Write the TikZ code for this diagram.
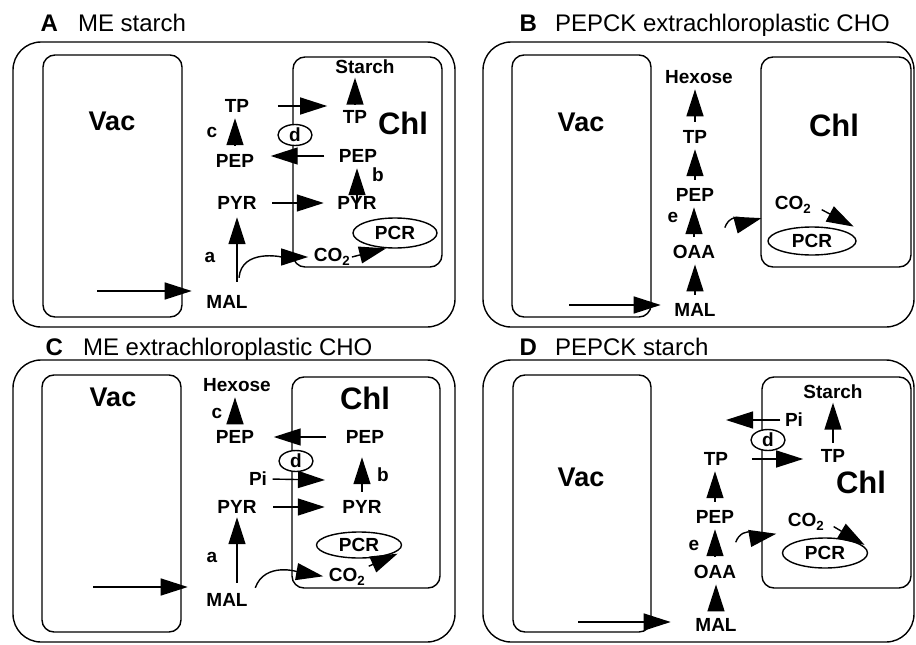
\documentclass[tikz,border=0pt]{standalone}
\usepackage{fontspec}
\setmainfont{Liberation Sans}
\usetikzlibrary{arrows.meta,positioning,calc,shapes.geometric}

\begin{document}
\begin{tikzpicture}[
  x=1pt, y=1pt,
  line width=1.4pt,
  cell/.style={draw, rounded corners=28pt},
  comp/.style={draw, rounded corners=12pt},
  ptitle/.style={anchor=base west, inner sep=0pt, font=\fontsize{24}{26}\selectfont},
  met/.style={inner sep=1pt, font=\fontsize{19}{20}\selectfont\bfseries},
  vacl/.style={inner sep=1pt, font=\fontsize{27}{29}\selectfont\bfseries},
  chll/.style={inner sep=1pt, font=\fontsize{31}{33}\selectfont\bfseries},
  enz/.style={ellipse, draw, fill=white, inner sep=0pt, minimum width=34pt, minimum height=21pt, font=\fontsize{19}{20}\selectfont\bfseries},
  pcr/.style={ellipse, draw, inner sep=0pt, minimum width=85pt, minimum height=29pt, font=\fontsize{19}{20}\selectfont\bfseries},
  arrow/.style={-{Triangle[length=27pt, width=17pt]}},
  hop/.style={arrow, shorten <=7pt, shorten >=4pt}
]
\useasboundingbox (0,0) rectangle (916,-645);

\node[ptitle] (aTitle) at (40,-31.5) {\textbf{A}\hspace{20pt}ME starch};
\draw[cell] (13,-42) rectangle (455,-327);
\draw[comp] (43,-55) rectangle (182,-317);
\draw[comp] (293,-57) rectangle (442,-267);
\node[vacl] (aVac) at (112,-121) {Vac};
\node[chll] (aChl) at (403,-123) {Chl};
\node[met] (aStarch) at (365,-67) {Starch};
\node[met] (aTPi) at (355,-117) {TP};
\node[met] (aTPo) at (237,-106) {TP};
\node[met] (ac) at (212,-132) {c};
\node[met] (aPEPo) at (235,-161) {PEP};
\node[enz] (aD) at (295,-135) {d};
\node[met] (aPEPi) at (358,-156) {PEP};
\node[met] (ab) at (378,-175) {b};
\node[met] (aPYRo) at (237,-203) {PYR};
\node[met] (aPYRi) at (357,-203) {PYR};
\node[pcr, minimum width=84pt, minimum height=30pt] (aPCR) at (395,-233) {PCR};
\node[met] (aCO2) at (332,-257) {CO\textsubscript{2}};
\node[met] (aa) at (210,-257) {a};
\node[met] (aMAL) at (227,-302) {MAL};
\coordinate (aIn) at (97,-291);

\draw[arrow, shorten <=5pt, shorten >=2pt] (aTPi.north) -- (aTPi.north |- aStarch.south);
\draw[arrow, shorten <=27pt, shorten >=14pt] (aTPo.east) -- (aTPo.east -| aTPi.west);
\draw[arrow, shorten <=13pt, shorten >=15pt] (aPEPi.west) -- (aPEPi.west -| aPEPo.east);
\draw[hop] (aPEPo.north) -- (aPEPo.north |- aTPo.south);
\draw[hop] (aPYRi.north) -- (aPYRi.north |- aPEPi.south);
\draw[arrow, shorten <=14pt, shorten >=12pt] (aPYRo.east) -- (aPYRi.west);
\draw[arrow, shorten <=12pt, shorten >=6pt] (aPYRo.south |- aMAL.north) -- (aPYRo.south);
\draw[arrow, shorten >=13pt] (aIn) -- (aIn -| aMAL.west);
\draw[arrow, shorten >=4pt] ($(aPYRo.south |- aMAL.north)+(2,16)$) to[out=85, in=180] (aCO2.west);
\draw[arrow] (aCO2.east) -- (aPCR.240);

\node[ptitle] (bTitle) at (519,-31.5) {\textbf{B}\hspace{18pt}PEPCK extrachloroplastic CHO};
\draw[cell] (483,-42) rectangle (914,-327);
\draw[comp] (512,-55) rectangle (651,-317);
\draw[comp] (761,-57) rectangle (911,-267);
\node[vacl] (bVac) at (581,-122) {Vac};
\node[chll] (bChl) at (834,-125) {Chl};
\node[met] (bHex) at (699,-77) {Hexose};
\node[met] (bTP) at (695,-137) {TP};
\node[met] (bPEP) at (695,-195) {PEP};
\node[met] (be) at (673,-217) {e};
\node[met] (bOAA) at (694,-252) {OAA};
\node[met] (bMAL) at (695,-310) {MAL};
\node[met] (bCO2) at (793,-205) {CO\textsubscript{2}};
\node[pcr, minimum width=88pt, minimum height=28pt] (bPCR) at (812,-241) {PCR};
\coordinate (bIn) at (569,-305);

\draw[hop] (bTP.north) -- (bTP.north |- bHex.south);
\draw[hop] (bPEP.north) -- (bPEP.north |- bTP.south);
\draw[hop] (bOAA.north) -- (bOAA.north |- bPEP.south);
\draw[hop] (bMAL.north) -- (bMAL.north |- bOAA.south);
\draw[arrow, shorten >=12pt] (bIn) -- (bIn -| bMAL.west);
\draw[arrow, shorten >=12pt] ($(bOAA.north east)+(8,16)$) to[out=70, in=195] (bCO2.south west);
\draw[arrow, shorten <=10pt] (bCO2.east) -- ($(bPCR.north east)+(10,4)$);

\node[ptitle] (cTitle) at (45,-355.5) {\textbf{C}\hspace{20pt}ME extrachloroplastic CHO};
\draw[cell] (13,-360) rectangle (455,-642);
\draw[comp] (42,-375) rectangle (181,-632);
\draw[comp] (292,-377) rectangle (440,-588);
\node[vacl] (cVac) at (113,-397) {Vac};
\node[chll] (cChl) at (365,-398) {Chl};
\node[met] (cHex) at (237,-385) {Hexose};
\node[met] (cc) at (217,-413) {c};
\node[met] (cPEPo) at (235,-437) {PEP};
\node[met] (cPEPi) at (365,-437) {PEP};
\node[enz] (cD) at (296,-461) {d};
\node[met] (cPi) at (258,-479) {Pi};
\node[met] (cb) at (383,-475) {b};
\node[met] (cPYRo) at (237,-507) {PYR};
\node[met] (cPYRi) at (362,-507) {PYR};
\node[pcr, minimum height=26pt] (cPCR) at (359,-545) {PCR};
\node[met] (cCO2) at (347,-577) {CO\textsubscript{2}};
\node[met] (ca) at (212,-557) {a};
\node[met] (cMAL) at (227,-600) {MAL};
\coordinate (cIn) at (93,-587);
\coordinate (cPiIn) at (325,-480);

\draw[hop] (cPEPo.north) -- (cPEPo.north |- cHex.south);
\draw[arrow, shorten <=18pt, shorten >=18pt] (cPEPi.west) -- (cPEPo.east);
\draw[arrow, shorten <=4pt] (cPi.east) -- (cPiIn);
\draw[arrow, shorten <=7pt, shorten >=12pt] (cPYRi.north) -- (cPYRi.north |- cPEPi.south);
\draw[arrow, shorten <=15pt, shorten >=16pt] (cPYRo.east) -- (cPYRi.west);
\draw[arrow, shorten <=9pt, shorten >=2pt] (cPYRo.south |- cMAL.north) -- (cPYRo.south);
\draw[arrow, shorten >=17pt] (cIn) -- (cIn -| cMAL.west);
\draw[arrow, shorten >=4pt] ($(cMAL.north east)+(6,4)$) to[out=70, in=170] (cCO2.west);
\draw[arrow, shorten <=2pt] (cCO2.north east) -- ($(cPCR.south east)+(8,1)$);

\node[ptitle] (dTitle) at (519,-355.5) {\textbf{D}\hspace{18pt}PEPCK starch};
\draw[cell] (483,-360) rectangle (914,-642);
\draw[comp] (513,-375) rectangle (651,-632);
\draw[comp] (762,-377) rectangle (911,-588);
\node[vacl] (dVac) at (581,-477) {Vac};
\node[chll] (dChl) at (861,-482) {Chl};
\node[met] (dStarch) at (833,-392) {Starch};
\node[met] (dPi) at (794,-420) {Pi};
\node[enz] (dD) at (768,-440) {d};
\node[met] (dTPi) at (833,-456) {TP};
\node[met] (dTPo) at (716,-459) {TP};
\node[met] (dPEP) at (715,-517) {PEP};
\node[met] (de) at (694,-545) {e};
\node[met] (dOAA) at (715,-572) {OAA};
\node[met] (dMAL) at (716,-625) {MAL};
\node[met] (dCO2) at (806,-522) {CO\textsubscript{2}};
\node[pcr, minimum height=30pt] (dPCR) at (825,-553) {PCR};
\coordinate (dIn) at (578,-622);
\coordinate (dPiOut) at (726,-420);

\draw[arrow, shorten <=5pt, shorten >=2pt] (dTPi.north) -- (dTPi.north |- dStarch.south);
\draw[arrow, shorten <=3pt] (dPi.west) -- (dPiOut);
\draw[arrow, shorten <=22pt, shorten >=16pt] (dTPo.east) -- (dTPo.east -| dTPi.west);
\draw[hop] (dPEP.north) -- (dPEP.north |- dTPo.south);
\draw[hop] (dOAA.north) -- (dOAA.north |- dPEP.south);
\draw[hop] (dMAL.north) -- (dMAL.north |- dOAA.south);
\draw[arrow, shorten >=23pt] (dIn) -- (dIn -| dMAL.west);
\draw[arrow, shorten >=10pt] ($(dPEP.south east)+(0,-17)$) to[out=70, in=190] (dCO2.south west);
\draw[arrow, shorten <=9pt] (dCO2.east) -- ($(dPCR.north east)+(9,-3)$);

\end{tikzpicture}
\end{document}
